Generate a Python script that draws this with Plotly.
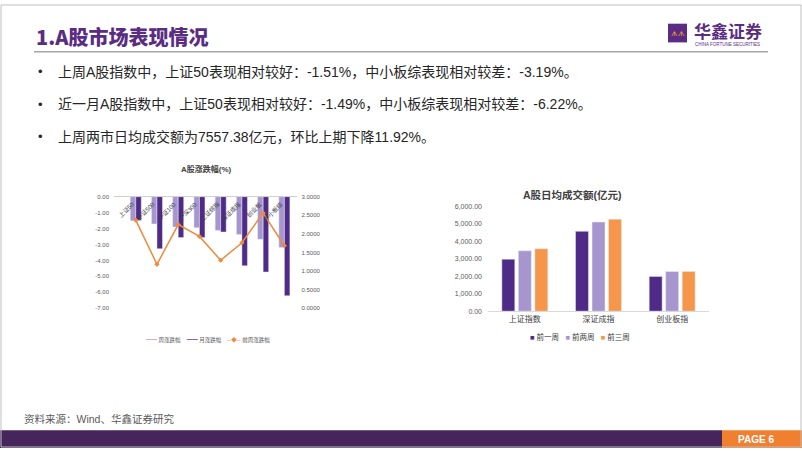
import plotly.graph_objects as go

W, H = 802, 451

# ---------------- data ----------------
idx_names = ["上证50", "中证500", "中证100", "沪深300", "上证综指", "深证成指", "创业板", "中小板综"]
week_chg = [-1.51, -1.71, -1.91, -1.95, -2.12, -2.37, -2.68, -3.19]
month_chg = [-1.49, -3.27, -2.57, -2.57, -2.22, -4.34, -4.73, -6.22]
prev_week_chg = [2.37, 1.18, 2.25, 1.93, 1.29, 1.76, 2.56, 1.68]
left_yticks = [0, -1, -2, -3, -4, -5, -6, -7]
right_yticks = [3.0, 2.5, 2.0, 1.5, 1.0, 0.5, 0.0]

turn_cats = ["上证指数", "深证成指", "创业板指"]
turn_w1 = [2980, 4577, 1994]
turn_w2 = [3460, 5110, 2277]
turn_w3 = [3578, 5271, 2270]
turn_yticks = [0, 1000, 2000, 3000, 4000, 5000, 6000]

bullets = [
    "上周A股指数中，上证50表现相对较好：-1.51%，中小板综表现相对较差：-3.19%。",
    "近一月A股指数中，上证50表现相对较好：-1.49%，中小板综表现相对较差：-6.22%。",
    "上周两市日均成交额为7557.38亿元，环比上期下降11.92%。",
]

# ---------------- style ----------------
DARK = "#4F2A86"
LIGHT = "#A796CE"
ORANGE = "#F5964A"
LINE_OR = "#EE8A3C"
PURPLE = "#5A2D82"
CJK = "Liberation Sans, Noto Sans CJK SC, sans-serif"


def px(x):
    return x / W


def py(y):
    return 1 - y / H


fig = go.Figure()

# left chart bars & line
fig.add_trace(go.Bar(x=idx_names, y=week_chg, name="周涨跌幅", marker_color=LIGHT,
                     width=0.26, offset=-0.26, xaxis="x", yaxis="y"))
fig.add_trace(go.Bar(x=idx_names, y=month_chg, name="月涨跌幅", marker_color=DARK,
                     width=0.26, offset=0.0, xaxis="x", yaxis="y"))
fig.add_trace(go.Scatter(x=idx_names, y=prev_week_chg, name="前周涨跌幅", mode="lines+markers",
                         line=dict(color=LINE_OR, width=1.5),
                         marker=dict(size=4, color=LINE_OR, symbol="diamond"),
                         xaxis="x", yaxis="y2"))

# right chart bars
for vals, col, off, nm in [(turn_w1, DARK, -0.312, "前一周"),
                           (turn_w2, LIGHT, -0.088, "前两周"),
                           (turn_w3, ORANGE, 0.136, "前三周")]:
    fig.add_trace(go.Bar(x=turn_cats, y=vals, name=nm, marker_color=col,
                         width=0.176, offset=off, xaxis="x3", yaxis="y3"))

L_X0, L_X1 = 114, 296.5
L_Y0, L_Y1 = 309, 195.7
R_X0, R_X1 = 488, 709
R_Y0, R_Y1 = 312, 205.7

fig.update_layout(
    width=W, height=H,
    margin=dict(l=0, r=0, t=0, b=0),
    paper_bgcolor="white", plot_bgcolor="rgba(0,0,0,0)",
    showlegend=False,
    barmode="group",
    font=dict(family=CJK, color="#404040"),
    xaxis=dict(domain=[px(L_X0), px(L_X1)], anchor="y", type="category",
               showticklabels=False, ticks="", showgrid=False, side="top",
               showline=True, linecolor="#D0D0D0", linewidth=1, zeroline=False),
    yaxis=dict(domain=[py(L_Y0), py(L_Y1)], anchor="x", range=[-7, 0],
               tickvals=left_yticks, ticktext=["%.2f" % v for v in left_yticks],
               tickfont=dict(size=6, color="#595959"), showgrid=False, zeroline=False,
               ticks="", ticklabelstandoff=4),
    yaxis2=dict(domain=[py(L_Y0), py(L_Y1)], anchor="x", overlaying="y", side="right",
                range=[0, 3], tickvals=right_yticks,
                ticktext=["%.4f" % v for v in right_yticks],
                tickfont=dict(size=6, color="#595959"), showgrid=False, zeroline=False,
                ticks="", ticklabelstandoff=4),
    xaxis3=dict(domain=[px(R_X0), px(R_X1)], anchor="y3", type="category",
                tickfont=dict(size=8, color="#404040"), ticks="", showgrid=False,
                showline=True, linecolor="#D9D9D9", linewidth=1, zeroline=False),
    yaxis3=dict(domain=[py(R_Y0), py(R_Y1)], anchor="x3", range=[0, 6000],
                tickvals=turn_yticks, tickformat=",.2f",
                tickfont=dict(size=7, color="#595959"), showgrid=False, zeroline=False,
                ticks="", ticklabelstandoff=5),
)

ann = []
shapes = []


def txt(x, y, text, size, color="#404040", family=CJK, xanchor="left", **kw):
    d = dict(x=px(x), y=py(y), xref="paper", yref="paper", text=text, showarrow=False,
             xanchor=xanchor, yanchor="middle", font=dict(size=size, color=color, family=family))
    d["font"].update(kw.pop("font_extra", {}))
    d.update(kw)
    ann.append(d)


# category labels (rotated) for left chart
for n in idx_names:
    ann.append(dict(x=n, y=0, xref="x", yref="y", text=n, textangle=-45, showarrow=False,
                    xanchor="right", yanchor="top", xshift=3, yshift=-1,
                    font=dict(size=6, color="#404040", family=CJK)))

# chart titles
txt(206, 168, "<b>A股涨跌幅(%)</b>", 8, xanchor="center")
txt(572, 194, "<b>A股日均成交额(亿元)</b>", 10.5, xanchor="center")

# left legend (manual)
txt(208, 341, (f'<span style="color:{LIGHT}">━━</span> 周涨跌幅    '
               f'<span style="color:{DARK}">━━</span> 月涨跌幅    '
               f'<span style="color:{LINE_OR}">─◆─</span> 前周涨跌幅'),
    5.5, color="#595959", xanchor="center")
# right legend (manual)
txt(580, 338, (f'<span style="color:{DARK}">■</span> 前一周   '
               f'<span style="color:{LIGHT}">■</span> 前两周   '
               f'<span style="color:{ORANGE}">■</span> 前三周'),
    7.5, xanchor="center")

# header title
txt(34, 33, "1.A股市场表现情况", 20, color=PURPLE, family="Noto Sans CJK SC",
    font_extra=dict(weight=900))
# logo
shapes.append(dict(type="rect", xref="paper", yref="paper", x0=px(668), x1=px(687),
                   y0=py(39), y1=py(20), fillcolor="#5B2C83", line=dict(width=0)))
txt(677.5, 29.5, "ᗑᗑ", 7, color="#F5A623", xanchor="center")
txt(692, 27, "<b>华鑫证券</b>", 17, color=PURPLE, family="Noto Sans CJK SC")
txt(693, 41.5, "CHINA FORTUNE SECURITIES", 4.5, color=PURPLE, family="Liberation Sans")
# header rule
shapes.append(dict(type="line", xref="paper", yref="paper", x0=px(34), x1=px(768),
                   y0=py(48.5), y1=py(48.5), line=dict(color="#A6A6A6", width=1.5)))

# bullets
for i, t in enumerate(bullets):
    yy = 69 + 33 * i
    txt(36, yy, "•", 13, color="#262626")
    txt(56, yy, t, 14, color="#262626")

# footer
txt(22, 422, "资料来源：Wind、华鑫证券研究", 10.5, color="#595959")
shapes.append(dict(type="rect", xref="paper", yref="paper", x0=0, x1=px(722),
                   y0=0, y1=py(433), fillcolor="#46255B", line=dict(width=0)))
shapes.append(dict(type="rect", xref="paper", yref="paper", x0=px(722), x1=1,
                   y0=0, y1=py(433), fillcolor="#F08030", line=dict(width=0)))
txt(736, 442, "<b>PAGE 6</b>", 10, color="white",
    family="Liberation Sans Narrow, Liberation Sans")
# slide border
shapes.append(dict(type="rect", xref="paper", yref="paper", x0=px(1), x1=px(801),
                   y0=py(450), y1=py(1), line=dict(color="#BFBFBF", width=1),
                   fillcolor="rgba(0,0,0,0)"))

fig.update_layout(annotations=ann, shapes=shapes)
fig.write_html("out.html", config={"displayModeBar": False},
               post_script="document.body.style.margin='0';document.body.style.overflow='hidden';")
